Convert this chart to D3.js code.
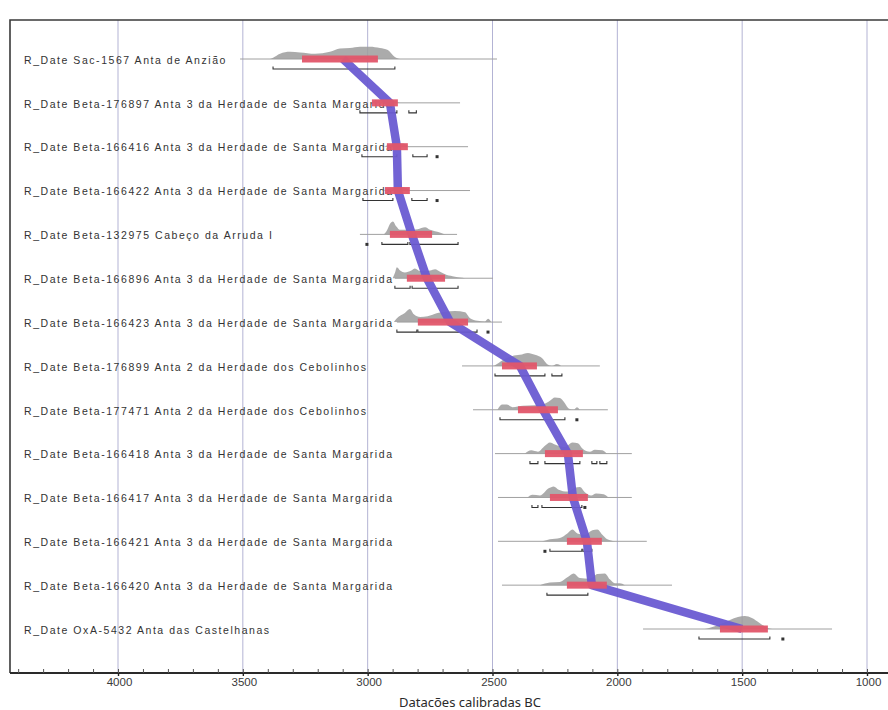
<!DOCTYPE html>
<html>
<head>
<meta charset="utf-8">
<script src="https://cdn.jsdelivr.net/npm/d3@7"></script>
<style>
  html, body { margin: 0; padding: 0; background: #fff; }
  svg { display: block; }
</style>
</head>
<body>
<svg id="chart" width="888" height="710"></svg>
<script>
// Calibrated radiocarbon dates (years BC), one row per sample, top to bottom
const labels = [
  "R_Date Sac-1567 Anta de Anzião",
  "R_Date Beta-176897 Anta 3 da Herdade de Santa Margarida",
  "R_Date Beta-166416 Anta 3 da Herdade de Santa Margarida",
  "R_Date Beta-166422 Anta 3 da Herdade de Santa Margarida",
  "R_Date Beta-132975 Cabeço da Arruda I",
  "R_Date Beta-166896 Anta 3 da Herdade de Santa Margarida",
  "R_Date Beta-166423 Anta 3 da Herdade de Santa Margarida",
  "R_Date Beta-176899 Anta 2 da Herdade dos Cebolinhos",
  "R_Date Beta-177471 Anta 2 da Herdade dos Cebolinhos",
  "R_Date Beta-166418 Anta 3 da Herdade de Santa Margarida",
  "R_Date Beta-166417 Anta 3 da Herdade de Santa Margarida",
  "R_Date Beta-166421 Anta 3 da Herdade de Santa Margarida",
  "R_Date Beta-166420 Anta 3 da Herdade de Santa Margarida",
  "R_Date OxA-5432 Anta das Castelhanas"
];

// Central date of each sample (the line joining the rows)
const medians = [3099, 2911, 2883, 2879, 2823, 2763, 2670, 2390, 2298, 2198, 2178, 2122, 2102, 1501];

// Highlighted range of each sample (red bar)
const rangeFrom = [3263, 2983, 2923, 2931, 2911, 2843, 2799, 2462, 2398, 2290, 2270, 2202, 2202, 1589];
const rangeTo   = [2959, 2879, 2839, 2831, 2742, 2690, 2598, 2322, 2238, 2138, 2118, 2062, 2042, 1397];

// Extent of each row's plotted distribution (thin baseline)
const spanFrom = [3511, 2983, 2925, 2931, 3031, 2891, 2883, 2622, 2578, 2490, 2478, 2478, 2462, 1897];
const spanTo   = [2482, 2630, 2598, 2590, 2642, 2498, 2462, 2070, 2038, 1942, 1942, 1882, 1781, 1140];

// Probability ranges under each distribution (a single year marks a dot)
const brackets = [
  [[3379, 2891]],
  [[3031, 2883], [2835, 2805]],
  [[3023, 2883], [2819, 2762], [2722, 2722]],
  [[3019, 2899], [2823, 2762], [2722, 2722]],
  [[3003, 3003], [2943, 2839], [2831, 2638]],
  [[2891, 2830], [2822, 2638]],
  [[2883, 2803], [2799, 2562], [2518, 2518]],
  [[2490, 2290], [2262, 2222]],
  [[2470, 2210], [2162, 2162]],
  [[2350, 2318], [2290, 2150], [2102, 2082], [2070, 2042]],
  [[2342, 2318], [2302, 2142], [2130, 2130]],
  [[2290, 2290], [2270, 2142], [2138, 2102]],
  [[2282, 2118]],
  [[1673, 1389], [1337, 1337]]
];

// Relative probability density of each sample: [year BC, density]
const densities = [
  [[3391,0],[3379,0.1],[3351,0.4],[3311,0.55],[3271,0.5],[3211,0.4],[3151,0.55],[3111,0.8],[3071,0.85],[3031,0.95],[2991,0.95],[2951,0.85],[2919,0.7],[2891,0.15],[2870,0]],
  [[2990,0],[2960,0.2],[2920,0.25],[2890,0.15],[2870,0]],
  [[2935,0],[2900,0.2],[2860,0.25],[2835,0]],
  [[2940,0],[2900,0.2],[2860,0.25],[2830,0]],
  [[2935,0],[2923,0.3],[2911,0.8],[2899,1.0],[2885,0.6],[2871,0.35],[2840,0.35],[2800,0.4],[2770,0.55],[2750,0.35],[2711,0.15],[2690,0]],
  [[2900,0],[2891,0.4],[2883,0.85],[2870,0.6],[2851,0.45],[2825,0.6],[2811,0.75],[2790,0.55],[2750,0.6],[2730,0.7],[2710,0.5],[2690,0.3],[2660,0.15],[2630,0.05],[2610,0]],
  [[2895,0],[2883,0.3],[2851,0.7],[2831,1.0],[2815,0.6],[2790,0.4],[2760,0.45],[2720,0.7],[2690,0.8],[2650,0.85],[2610,0.75],[2590,0.3],[2560,0.1],[2530,0.05],[2518,0.25],[2505,0]],
  [[2495,0],[2482,0.15],[2450,0.55],[2422,0.75],[2390,0.85],[2358,1.0],[2330,0.85],[2302,0.6],[2282,0.15],[2262,0],[2242,0.15],[2225,0]],
  [[2480,0],[2462,0.4],[2442,0.4],[2420,0.2],[2378,0.3],[2330,0.35],[2300,0.4],[2270,0.7],[2250,0.95],[2230,0.9],[2210,0.5],[2195,0.1],[2175,0],[2162,0.2],[2150,0]],
  [[2370,0],[2345,0.25],[2318,0.15],[2290,0.6],[2270,0.85],[2250,0.7],[2210,0.5],[2180,0.85],[2158,0.8],[2140,0.4],[2110,0.15],[2090,0.3],[2060,0.25],[2042,0]],
  [[2360,0],[2340,0.2],[2310,0.15],[2275,0.7],[2255,0.85],[2235,0.6],[2200,0.45],[2170,0.75],[2150,0.8],[2130,0.4],[2105,0.15],[2085,0.3],[2055,0.25],[2035,0]],
  [[2300,0],[2270,0.15],[2230,0.25],[2200,0.6],[2180,0.9],[2160,0.6],[2130,0.5],[2100,0.85],[2080,0.9],[2060,0.5],[2040,0.15],[2010,0]],
  [[2310,0],[2270,0.2],[2230,0.25],[2200,0.6],[2175,0.9],[2150,0.55],[2110,0.5],[2080,0.85],[2050,0.9],[2030,0.45],[2010,0.15],[1990,0.15],[1970,0]],
  [[1650,0],[1629,0.1],[1590,0.35],[1549,0.7],[1517,0.92],[1489,1.0],[1461,0.85],[1429,0.45],[1401,0.1],[1380,0]]
];

// Axis ticks (years BC)
const majorTicks = [4000, 3500, 3000, 2500, 2000, 1500, 1000];
const minorTicks = d3.range(4400, 900, -100);
const axisTitle = "Datacões calibradas BC";

// ---- layout ----
const frame = { left: 10, right: 888, top: 20, bottom: 673 };
const svg = d3.select("#chart");

const x = d3.scaleLinear().domain([4000, 1000]).range([118, 867]);
const y = d3.scalePoint().domain(labels).range([59, 629]);
const h = d3.scaleLinear().domain([0, 1]).range([0, 13]);

// vertical grid
svg.append("g").selectAll("line").data(majorTicks).join("line")
  .attr("x1", d => x(d)).attr("x2", d => x(d))
  .attr("y1", frame.top).attr("y2", frame.bottom)
  .attr("stroke", "#b3b3d4").attr("stroke-width", 1);

// row labels
svg.append("g").selectAll("text").data(labels).join("text")
  .attr("x", 24).attr("y", d => y(d) + 2)
  .attr("dominant-baseline", "middle")
  .attr("font-family", "Liberation Sans, Arial, sans-serif")
  .attr("font-size", 10.5)
  .attr("letter-spacing", "1.55px")
  .attr("fill", "#333")
  .text(d => d);

const rows = svg.append("g").selectAll("g").data(labels).join("g")
  .attr("transform", d => `translate(0,${y(d)})`);

// baselines
rows.append("line")
  .attr("x1", (d, i) => x(spanFrom[i])).attr("x2", (d, i) => x(spanTo[i]))
  .attr("y1", 0).attr("y2", 0)
  .attr("stroke", "#a0a0a0").attr("stroke-width", 1);

// density areas
const area = d3.area()
  .x(p => x(p[0])).y0(0).y1(p => -h(p[1]))
  .curve(d3.curveMonotoneX);
rows.append("path")
  .attr("d", (d, i) => area(densities[i]))
  .attr("fill", "#9c9c9c").attr("fill-opacity", 0.85);

// range brackets
rows.each(function(d, i) {
  const g = d3.select(this).append("g").attr("transform", "translate(0,10)");
  brackets[i].forEach(([a, b]) => {
    if (a === b) {
      g.append("rect").attr("x", x(a) - 1.5).attr("y", -1.5)
        .attr("width", 3).attr("height", 3).attr("fill", "#333");
    } else {
      g.append("path")
        .attr("d", `M${x(a)},-2.5V0H${x(b)}V-2.5`)
        .attr("fill", "none").attr("stroke", "#333").attr("stroke-width", 1.1);
    }
  });
});

// connecting line through the central dates
const link = d3.line().x((d, i) => x(medians[i])).y(d => y(d));
svg.append("path")
  .attr("d", link(labels))
  .attr("fill", "none")
  .attr("stroke", "#6a5bd2").attr("stroke-width", 8.5)
  .attr("stroke-linejoin", "round").attr("stroke-opacity", 0.95);

// highlighted ranges
svg.append("g").selectAll("rect").data(labels).join("rect")
  .attr("x", (d, i) => x(rangeFrom[i]))
  .attr("width", (d, i) => x(rangeTo[i]) - x(rangeFrom[i]))
  .attr("y", d => y(d) - 3.5).attr("height", 7)
  .attr("fill", "#e2566a").attr("fill-opacity", 0.95);

// frame
svg.append("path")
  .attr("d", `M${frame.right},${frame.top}H${frame.left}V${frame.bottom}`)
  .attr("fill", "none").attr("stroke", "#3a3a3a").attr("stroke-width", 1.6);
svg.append("line")
  .attr("x1", frame.left).attr("x2", frame.right)
  .attr("y1", frame.bottom).attr("y2", frame.bottom)
  .attr("stroke", "#2a2a2a").attr("stroke-width", 1.8);

// axis: minor then major ticks pointing inward
const minorAxis = d3.axisBottom(x).tickValues(minorTicks).tickSizeInner(-4).tickSizeOuter(0).tickFormat("");
const gMinor = svg.append("g").attr("transform", `translate(0,${frame.bottom})`).call(minorAxis);
gMinor.select(".domain").remove();
gMinor.selectAll(".tick line").attr("stroke", "#555");

const majorAxis = d3.axisBottom(x).tickValues(majorTicks).tickSizeInner(-9).tickSizeOuter(0).tickPadding(5).tickFormat(d3.format("d"));
const gMajor = svg.append("g").attr("transform", `translate(0,${frame.bottom})`).call(majorAxis);
gMajor.select(".domain").remove();
gMajor.selectAll(".tick line").attr("stroke", "#222").attr("stroke-width", 1.4).attr("y2", 3);
gMajor.selectAll(".tick text")
  .attr("font-family", "Liberation Sans Narrow, Arial Narrow, sans-serif")
  .attr("font-size", 11.5).attr("fill", "#3a3a3a").attr("dx", 1);

// axis title
svg.append("text")
  .attr("x", 470).attr("y", 707)
  .attr("text-anchor", "middle")
  .attr("font-family", "Noto Sans, sans-serif")
  .attr("font-size", 13)
  .attr("fill", "#2a2a2a")
  .text(axisTitle);
</script>
</body>
</html>
